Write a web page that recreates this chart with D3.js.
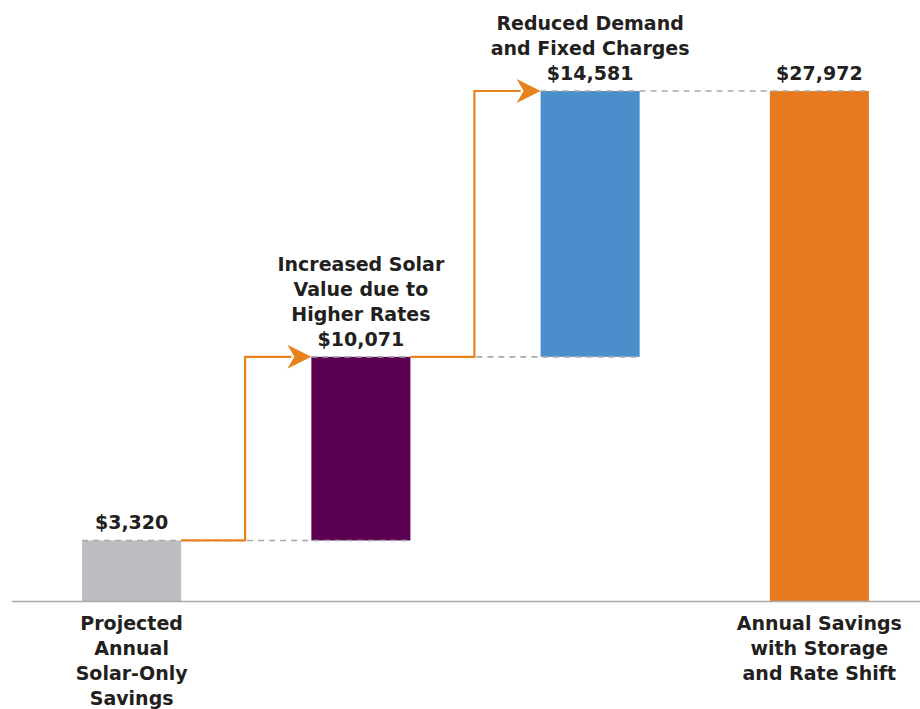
<!DOCTYPE html>
<html>
<head>
<meta charset="utf-8">
<script src="https://cdn.jsdelivr.net/npm/d3@7"></script>
<style>
  body { margin: 0; background: #fff; }
  text { font-family: "DejaVu Sans", sans-serif; font-weight: bold; fill: #231f20; }
</style>
</head>
<body>
<svg id="chart"></svg>
<script>
var categories = ["solar", "rates", "demand", "total"];
var values = [3320, 10071, 14581, 27972];
var isTotal = [false, false, false, true];
var valueLabels = ["$3,320", "$10,071", "$14,581", "$27,972"];
var topLabels = [[], ["Increased Solar", "Value due to", "Higher Rates"], ["Reduced Demand", "and Fixed Charges"], []];
var bottomLabels = [["Projected", "Annual", "Solar-Only", "Savings"], [], [], ["Annual Savings", "with Storage", "and Rate Shift"]];
var colors = ["#bcbdc0", "#5c0051", "#4a8fcc", "#e87a1e"];

var width = 920, height = 709;
var svg = d3.select("#chart").attr("width", width).attr("height", height);

// running start / end for each step of the waterfall
var run = 0;
var steps = values.map(function(v, i){
  var s = isTotal[i] ? 0 : run;
  var e = isTotal[i] ? v : run + v;
  if (!isTotal[i]) run = e;
  return {cat: categories[i], start: s, end: e, i: i};
});

var xScale = d3.scaleBand()
               .domain(categories)
               .range([17, 934])
               .paddingInner(0.568)
               .paddingOuter(0.284);

var yScale = d3.scaleLinear()
               .domain([0, 27972])
               .range([601, 91]);

var bw = xScale.bandwidth();

// bars
svg.append("g").selectAll("rect")
   .data(steps)
   .enter()
   .append("rect")
   .attr("x", function(d){ return xScale(d.cat); })
   .attr("y", function(d){ return yScale(d.end); })
   .attr("width", bw)
   .attr("height", function(d){ return yScale(d.start) - yScale(d.end); })
   .attr("fill", function(d, i){ return colors[i]; });

// dashed connectors and orange arrows
var links = svg.append("g");
for (var i = 0; i < steps.length - 1; i++) {
  var a = steps[i], b = steps[i + 1];
  var yv = yScale(a.end);
  links.append("line")
       .attr("x1", xScale(a.cat)).attr("x2", xScale(b.cat) + bw)
       .attr("y1", yv).attr("y2", yv)
       .attr("stroke", "#a7a9ac").attr("stroke-width", 1.6)
       .attr("stroke-dasharray", "6,5");
}
for (var j = 0; j < 2; j++) {
  var a2 = steps[j], b2 = steps[j + 1];
  var x0 = xScale(a2.cat) + bw, xt = xScale(b2.cat);
  var xm = x0 + 64;
  var y0 = yScale(a2.end), y1 = yScale(b2.end);
  links.append("path")
       .attr("d", "M" + x0 + "," + y0 + "H" + xm + "V" + y1 + "H" + (xt - 20))
       .attr("fill", "none").attr("stroke", "#e8821e").attr("stroke-width", 2.2);
  links.append("path")
       .attr("d", "M" + xt + "," + y1 + "L" + (xt - 24) + "," + (y1 - 12) + "L" + (xt - 17) + "," + y1 + "L" + (xt - 24) + "," + (y1 + 12) + "Z")
       .attr("fill", "#e8821e");
}

// baseline
svg.append("line")
   .attr("x1", 12).attr("x2", width)
   .attr("y1", yScale(0) + 0.5).attr("y2", yScale(0) + 0.5)
   .attr("stroke", "#a7a9ac").attr("stroke-width", 1.5);

// labels above and below bars
var lh = 25;
steps.forEach(function(d, i){
  var cx = xScale(d.cat) + bw / 2;
  var base = yScale(d.end) - 11;
  var lines = topLabels[i].concat([valueLabels[i]]);
  lines.forEach(function(t, k){
    svg.append("text")
       .attr("x", cx)
       .attr("y", base - (lines.length - 1 - k) * lh)
       .attr("text-anchor", "middle")
       .style("font-size", "19px")
       .text(t);
  });
  bottomLabels[i].forEach(function(t, k){
    svg.append("text")
       .attr("x", cx)
       .attr("y", 630 + k * lh)
       .attr("text-anchor", "middle")
       .style("font-size", "19px")
       .text(t);
  });
});
</script>
</body>
</html>
